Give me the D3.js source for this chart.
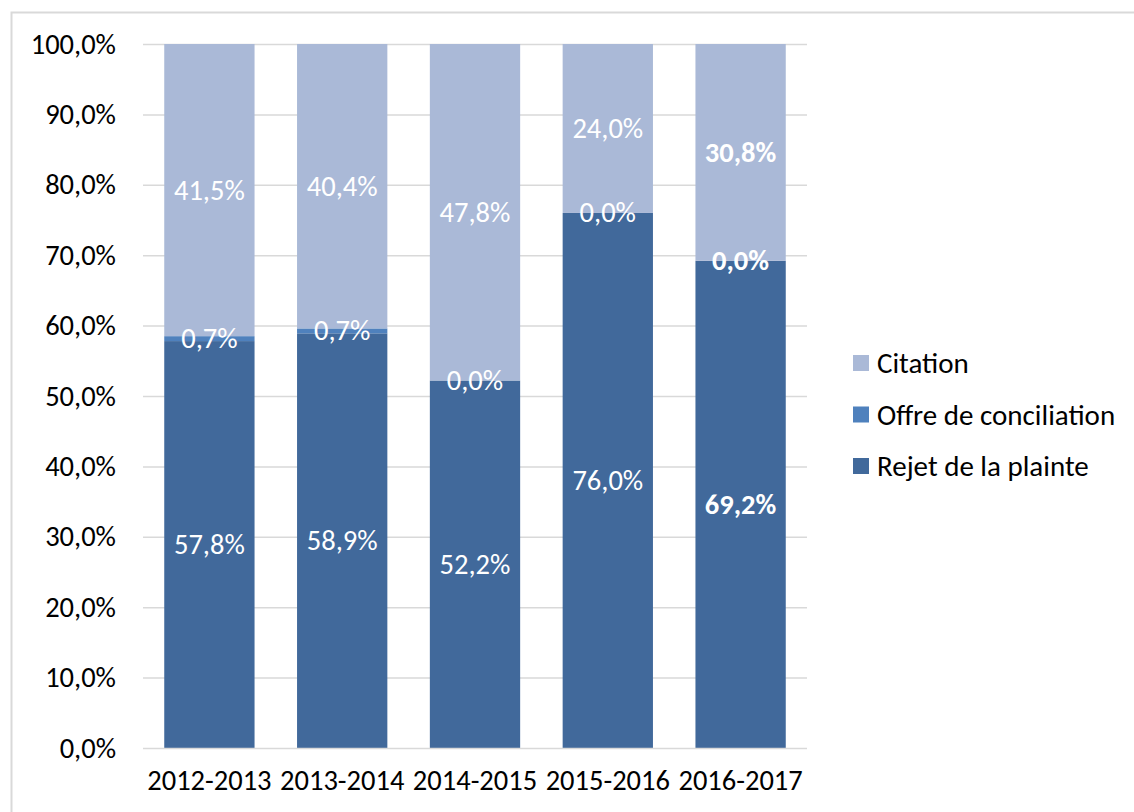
<!DOCTYPE html>
<html>
<head>
<meta charset="utf-8">
<script src="https://cdn.jsdelivr.net/npm/d3@7"></script>
<style>
  body { margin: 0; background: #fff; }
  svg { display: block; }
  text { font-family: Carlito, Calibri, Lato, sans-serif; }
</style>
</head>
<body>
<svg id="chart" width="1134" height="812"></svg>
<script>
// Répartition des décisions par exercice (en %)
const categories = ["2012-2013", "2013-2014", "2014-2015", "2015-2016", "2016-2017"];
const seriesNames = ["Rejet de la plainte", "Offre de conciliation", "Citation"];
const rejet = [57.8, 58.9, 52.2, 76.0, 69.2];
const offre = [0.7, 0.7, 0.0, 0.0, 0.0];
const citation = [41.5, 40.4, 47.8, 24.0, 30.8];
const yTicks = [0, 10, 20, 30, 40, 50, 60, 70, 80, 90, 100];
const boldCategories = ["2016-2017"];

const colors = { "Rejet de la plainte": "#41699B", "Offre de conciliation": "#4F81BD", "Citation": "#AAB9D7" };

const fmt = v => v.toFixed(1).replace(".", ",") + "%";
const FS = 28.5;

const svg = d3.select("#chart");

// outer chart frame (top and left edges visible)
svg.append("rect")
  .attr("x", 11.5).attr("y", 12.5)
  .attr("width", 1300).attr("height", 1000)
  .attr("fill", "none").attr("stroke", "#D9D9D9").attr("stroke-width", 2);

const plot = { left: 143, right: 807, top: 44, bottom: 748 };

const x = d3.scaleBand()
  .domain(categories)
  .range([plot.left, plot.right])
  .paddingInner(0.32)
  .paddingOuter(0.16);

const y = d3.scaleLinear().domain([0, 100]).range([plot.bottom, plot.top]);

// gridlines
svg.append("g")
  .selectAll("line")
  .data(yTicks.filter(t => t > 0))
  .join("line")
  .attr("x1", plot.left).attr("x2", plot.right)
  .attr("y1", d => y(d) + 0.5).attr("y2", d => y(d) + 0.5)
  .attr("stroke", "#D9D9D9").attr("stroke-width", 1.5);

// y axis labels
const yAxis = d3.axisLeft(y).tickValues(yTicks).tickFormat(fmt).tickSize(0).tickPadding(27);
const yg = svg.append("g").attr("transform", `translate(${plot.left},0)`).call(yAxis);
yg.select(".domain").remove();
yg.selectAll("text")
  .attr("font-size", FS).attr("fill", "#000")
  .style("font-family", "Carlito, Calibri, Lato, sans-serif");

// stacked data
const table = categories.map((c, i) => ({
  cat: c,
  "Rejet de la plainte": rejet[i],
  "Offre de conciliation": offre[i],
  "Citation": citation[i]
}));
const stacked = d3.stack().keys(seriesNames)(table);

const layers = svg.append("g")
  .selectAll("g")
  .data(stacked)
  .join("g")
  .attr("fill", d => colors[d.key]);

layers.selectAll("rect")
  .data(d => d)
  .join("rect")
  .attr("x", d => x(d.data.cat))
  .attr("width", x.bandwidth())
  .attr("y", d => y(d[1]))
  .attr("height", d => y(d[0]) - y(d[1]));

// x axis baseline
svg.append("line")
  .attr("x1", plot.left).attr("x2", plot.right)
  .attr("y1", plot.bottom + 0.5).attr("y2", plot.bottom + 0.5)
  .attr("stroke", "#D9D9D9").attr("stroke-width", 1.5);

// x axis labels
const xAxis = d3.axisBottom(x).tickSize(0).tickPadding(22);
const xg = svg.append("g").attr("transform", `translate(0,${plot.bottom})`).call(xAxis);
xg.select(".domain").remove();
xg.selectAll("text")
  .attr("font-size", FS).attr("fill", "#000")
  .style("font-family", "Carlito, Calibri, Lato, sans-serif");

// data labels
const labels = svg.append("g");
stacked.forEach(layer => {
  labels.selectAll(null)
    .data(layer)
    .join("text")
    .attr("x", d => x(d.data.cat) + x.bandwidth() / 2)
    .attr("y", d => (y(d[0]) + y(d[1])) / 2)
    .attr("text-anchor", "middle")
    .attr("dominant-baseline", "central")
    .attr("font-size", FS)
    .attr("font-weight", d => boldCategories.includes(d.data.cat) ? "bold" : "normal")
    .attr("fill", "#fff")
    .text(d => fmt(d.data[layer.key]));
});

// legend
const legendItems = ["Citation", "Offre de conciliation", "Rejet de la plainte"];
const lg = svg.append("g").attr("transform", "translate(853,363)");
const li = lg.selectAll("g")
  .data(legendItems)
  .join("g")
  .attr("transform", (d, i) => `translate(0,${i * 51.5})`);
li.append("rect")
  .attr("x", 0).attr("y", -8).attr("width", 16).attr("height", 16)
  .attr("fill", d => colors[d]);
li.append("text")
  .attr("x", 24).attr("y", 0)
  .attr("dominant-baseline", "central")
  .attr("font-size", 29).attr("fill", "#000")
  .text(d => d);
</script>
</body>
</html>
